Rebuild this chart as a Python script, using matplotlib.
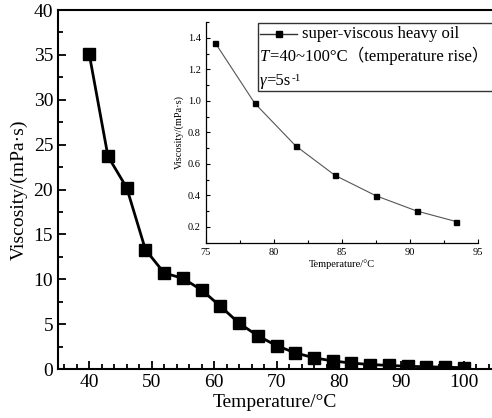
import matplotlib
matplotlib.use("Agg")
import matplotlib.pyplot as plt
from matplotlib.lines import Line2D
from matplotlib.patches import Rectangle
from matplotlib.text import Annotation
from matplotlib.ticker import MultipleLocator, FormatStrFormatter

# main curve: 40-100 C, temperature rise
temp = [40, 43, 46, 49, 52, 55, 58, 61, 64, 67, 70, 73, 76, 79, 82, 85, 88, 91, 94, 97, 100]
visc = [35.1, 23.7, 20.2, 13.3, 10.7, 10.1, 8.8, 7.0, 5.1, 3.7, 2.6, 1.8, 1.25, 0.9, 0.66,
        0.5, 0.4, 0.3, 0.25, 0.2, 0.15]

# inset: high-temperature part
inset_temp = [75.7, 78.6, 81.6, 84.5, 87.5, 90.5, 93.4]
inset_visc = [1.368, 0.985, 0.715, 0.527, 0.398, 0.301, 0.234]

SERIF = "Liberation Serif"
plt.rcParams["font.family"] = SERIF

fig = plt.figure(figsize=(4.92, 4.18), dpi=100)
ax = fig.add_axes([0.1179, 0.1172, 0.8821, 0.8588])

ax.plot(temp, visc, color="black", linewidth=2, marker="s", markersize=9,
        markerfacecolor="black", markeredgecolor="black", zorder=3)
ax.set_xlim(35, 104.5)
ax.set_ylim(0, 40)
ax.xaxis.set_major_locator(MultipleLocator(10))
ax.xaxis.set_minor_locator(MultipleLocator(2))
ax.yaxis.set_major_locator(MultipleLocator(5))
ax.yaxis.set_minor_locator(MultipleLocator(2.5))
ax.tick_params(which="both", direction="in", top=False, right=False, labelsize=14, width=1.3)
ax.tick_params(which="major", length=6)
ax.tick_params(which="minor", length=3.5)
ax.spines["right"].set_visible(False)
for s in ("left", "bottom", "top"):
    ax.spines[s].set_linewidth(1.5)
ax.set_xlabel("Temperature/°C", fontsize=14, labelpad=2)
ax.set_ylabel("Viscosity/(mPa·s)", fontsize=14, labelpad=4)

# inset
ins = fig.add_axes([0.418, 0.4194, 0.5535, 0.528])
ins.plot(inset_temp, inset_visc, color="#555555", linewidth=0.8, marker="s", markersize=3.6,
         markerfacecolor="black", markeredgecolor="black")
ins.set_xlim(75, 95)
ins.set_ylim(0.1, 1.5)
ins.xaxis.set_major_locator(MultipleLocator(5))
ins.xaxis.set_minor_locator(MultipleLocator(2.5))
ins.yaxis.set_major_locator(MultipleLocator(0.2))
ins.yaxis.set_minor_locator(MultipleLocator(0.1))
ins.yaxis.set_major_formatter(FormatStrFormatter("%.1f"))
ins.tick_params(which="both", direction="in", labelsize=7.5, width=0.8)
ins.tick_params(which="major", length=3)
ins.tick_params(which="minor", length=2)
ins.spines["top"].set_visible(False)
ins.spines["right"].set_visible(False)
for s in ("left", "bottom"):
    ins.spines[s].set_linewidth(0.9)
ins.patch.set_alpha(0)
ins.set_xlabel("Temperature/°C", fontsize=7.5, labelpad=2)
ins.set_ylabel("Viscosity/(mPa·s)", fontsize=7.5, labelpad=3)

# legend-like box (figure level so it sits above both axes)
fig.patches.append(Rectangle((0.5244, 0.783), 0.6, 0.1627, transform=fig.transFigure,
                             facecolor="white", edgecolor="#333333", linewidth=1.0, zorder=5))
fig.lines.append(Line2D([260 / 492, 297 / 492], [1 - 34 / 418] * 2, transform=fig.transFigure,
                        color="#333333", linewidth=1.0, zorder=6))
fig.lines.append(Line2D([279 / 492], [1 - 34 / 418], transform=fig.transFigure, marker="s",
                        markersize=4.5, color="black", zorder=7))
fs = 12
fig.text(302 / 492, 1 - 34 / 418, "super-viscous heavy oil", fontsize=fs, va="center",
         ha="left", zorder=7)


def chain(prev, text, dx=0, dy=0, ref=(1, 0), **kw):
    a = Annotation(text, xy=ref, xycoords=prev, xytext=(dx, dy), textcoords="offset points",
                   va="bottom", ha="left", annotation_clip=False, zorder=7, **kw)
    fig.add_artist(a)
    return a


t1 = fig.text(260 / 492, 1 - 61 / 418, "T", fontsize=fs, style="italic", va="baseline",
              ha="left", zorder=7)
chain(t1, "=40~100°C（temperature rise）", dx=0.5, fontsize=fs,
      family=[SERIF, "Noto Sans CJK SC"])
g = fig.text(260 / 492, 1 - 85 / 418, "γ", fontsize=fs, style="italic", va="baseline",
             ha="left", zorder=7)
s5 = chain(g, "=5s", fontsize=fs)
chain(s5, "-1", dx=0.5, dy=-7, ref=(1, 1), fontsize=8)

fig.savefig("out.png", dpi=100)
